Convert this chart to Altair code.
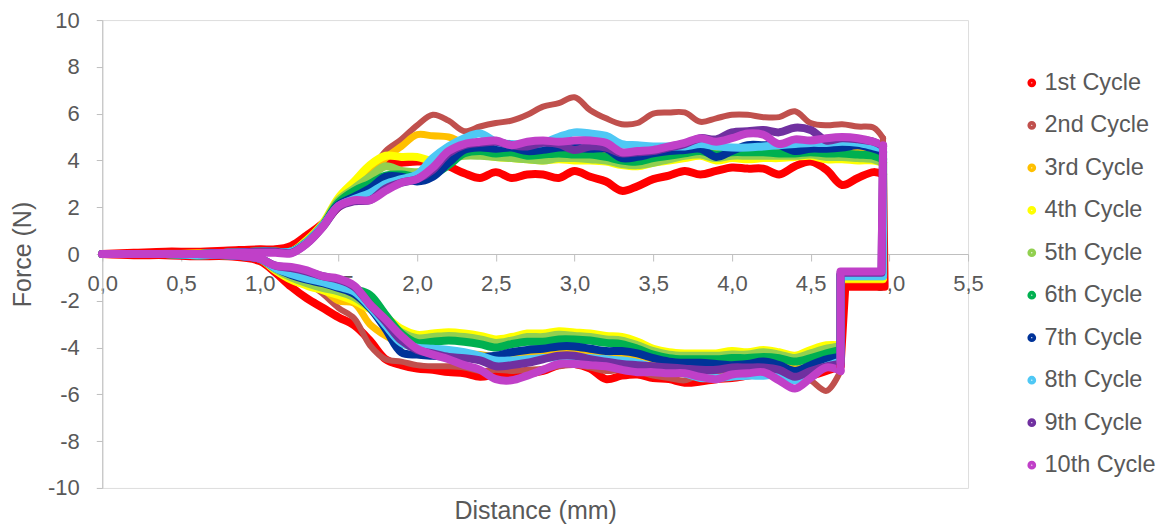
import altair as alt
import pandas as pd

SERIES = ["1st Cycle", "2nd Cycle", "3rd Cycle", "4th Cycle", "5th Cycle",
          "6th Cycle", "7th Cycle", "8th Cycle", "9th Cycle", "10th Cycle"]
COLORS = ["#FF0000", "#C0504D", "#FFC000", "#FFFF00", "#92D050",
          "#00B050", "#003399", "#4FC8F5", "#7030A0", "#C040C8"]

# loading branch (distance grid shared by all cycles)
UP_X = [0.0, 0.2, 0.4, 0.6, 0.8, 1.0, 1.1, 1.2,
        1.3, 1.4, 1.5, 1.6, 1.7, 1.8, 1.9, 2.0,
        2.1, 2.2, 2.3, 2.4, 2.5, 2.6, 2.7, 2.8, 2.9, 3.0,
        3.1, 3.2, 3.3, 3.4, 3.5, 3.6, 3.7, 3.8, 3.9, 4.0,
        4.1, 4.2, 4.3, 4.4, 4.5, 4.6, 4.7, 4.8, 4.9, 4.96]

UP_1 = [0.0, 0.05, 0.1, 0.1, 0.15, 0.2, 0.2, 0.35,
        0.8, 1.3, 2.0, 2.6, 3.25, 3.85, 3.9, 3.95,
        3.95, 3.75, 3.45, 3.25, 3.5, 3.25, 3.4, 3.4, 3.25, 3.55,
        3.3, 3.1, 2.7, 2.9, 3.2, 3.35, 3.55, 3.4, 3.55, 3.7,
        3.65, 3.65, 3.4, 3.75, 3.95, 3.6, 2.95, 3.25, 3.5, 3.4]
UP_2 = [0.0, 0.0, 0.05, 0.05, 0.05, 0.1, 0.1, 0.1,
        0.6, 1.2, 2.1, 2.8, 3.5, 4.4, 4.9, 5.5,
        5.95, 5.7, 5.25, 5.45, 5.6, 5.7, 5.95, 6.3, 6.45, 6.7,
        6.15, 5.8, 5.55, 5.6, 6.0, 6.05, 6.05, 5.65, 5.8, 5.95,
        5.95, 5.85, 5.85, 6.1, 5.6, 5.5, 5.55, 5.45, 5.4, 4.95]
UP_3 = [0.0, 0.0, 0.0, 0.05, 0.05, 0.1, 0.1, 0.1,
        0.6, 1.2, 2.1, 2.8, 3.4, 4.1, 4.6, 5.1,
        5.05, 5.0, 4.75, 4.7, 4.75, 4.7, 4.6, 4.5, 4.55, 4.5,
        4.5, 4.45, 4.3, 4.3, 4.35, 4.45, 4.5, 4.55, 4.4, 4.45,
        4.55, 4.55, 4.5, 4.45, 4.5, 4.45, 4.5, 4.5, 4.45, 4.3]
UP_4 = [0.0, 0.0, 0.0, 0.0, 0.05, 0.1, 0.1, 0.1,
        0.6, 1.3, 2.4, 3.1, 3.8, 4.2, 4.15, 4.15,
        4.0, 4.3, 4.3, 4.25, 4.15, 4.1, 4.05, 4.0, 4.05, 4.0,
        4.0, 3.95, 3.8, 3.75, 3.9, 4.0, 4.1, 4.2, 4.0, 4.1,
        4.05, 4.1, 4.1, 4.15, 4.2, 4.05, 4.05, 4.0, 4.0, 3.9]
UP_5 = [0.0, 0.0, 0.0, 0.0, 0.05, 0.1, 0.1, 0.1,
        0.55, 1.25, 2.3, 2.8, 3.3, 3.75, 3.55, 3.5,
        3.6, 4.05, 4.2, 4.2, 4.15, 4.1, 4.05, 4.0, 4.1, 4.1,
        4.05, 4.0, 3.85, 3.8, 3.9, 4.05, 4.2, 4.25, 4.1, 4.2,
        4.2, 4.2, 4.2, 4.2, 4.25, 4.15, 4.15, 4.1, 4.05, 3.9]
UP_6 = [0.0, 0.0, 0.0, 0.0, 0.05, 0.1, 0.1, 0.1,
        0.5, 1.2, 2.2, 2.7, 3.0, 3.35, 3.4, 3.3,
        3.4, 3.8, 4.3, 4.4, 4.3, 4.35, 4.2, 4.25, 4.3, 4.25,
        4.25, 4.15, 4.0, 3.95, 4.1, 4.2, 4.3, 4.4, 4.25, 4.35,
        4.35, 4.35, 4.3, 4.3, 4.35, 4.3, 4.3, 4.25, 4.2, 4.05]
UP_7 = [0.0, 0.0, 0.0, 0.0, 0.05, 0.1, 0.1, 0.1,
        0.5, 1.2, 2.1, 2.45, 2.8, 3.3, 3.3, 3.1,
        3.3, 3.9, 4.45, 4.55, 4.5, 4.55, 4.4, 4.45, 4.55, 4.55,
        4.5, 4.5, 4.1, 4.15, 4.3, 4.4, 4.45, 4.5, 4.15, 4.4,
        4.65, 4.65, 4.65, 4.4, 4.5, 4.5, 4.55, 4.65, 4.5, 4.35]
UP_8 = [0.0, 0.0, 0.0, 0.0, 0.05, 0.1, 0.1, 0.1,
        0.5, 1.2, 2.05, 2.35, 2.6, 3.0, 3.2, 3.4,
        4.1, 4.6, 4.95, 5.15, 4.8, 4.7, 4.7, 4.75, 5.0, 5.2,
        5.15, 5.05, 4.7, 4.65, 4.6, 4.6, 4.6, 4.7, 4.6, 4.55,
        4.55, 4.6, 4.65, 4.7, 4.75, 4.75, 4.8, 4.75, 4.6, 4.5]
UP_9 = [0.0, 0.0, 0.0, 0.0, 0.05, 0.1, 0.1, 0.05,
        0.45, 1.15, 2.0, 2.25, 2.3, 2.8, 3.05, 3.2,
        3.6, 4.3, 4.65, 4.75, 4.8, 4.65, 4.6, 4.75, 4.7, 4.45,
        4.6, 4.55, 4.3, 4.35, 4.4, 4.55, 4.7, 4.95, 4.9, 5.2,
        5.25, 5.3, 5.2, 5.4, 5.3, 4.85, 4.95, 4.9, 4.8, 4.6]
UP_10 = [0.0, 0.0, 0.0, 0.0, 0.05, 0.05, 0.05, 0.03,
         0.45, 1.15, 2.05, 2.3, 2.3, 2.7, 3.05, 3.2,
         3.7, 4.4, 4.7, 4.8, 4.85, 4.65, 4.8, 4.85, 4.8, 4.85,
         4.85, 4.75, 4.35, 4.4, 4.45, 4.6, 4.75, 4.95, 4.8, 4.95,
         5.15, 5.1, 4.7, 4.9, 4.85, 4.95, 5.0, 4.95, 4.8, 4.65]

# end of stroke: drop at the far end, short shelf, then return
DROP_X = [4.97, 4.96, 4.96, 4.96, 4.96, 4.96, 4.96, 4.96, 4.95, 4.95]
SHELF_Y = [-1.4, -0.95, -1.1, -1.05, -0.95, -0.9, -0.9, -0.95, -0.8, -0.75]
SHELF_X = [4.72, 4.69, 4.69, 4.69, 4.69, 4.69, 4.69, 4.69, 4.69, 4.69]

# unloading branch (distance grid shared by all cycles)
LOW_X = [4.69, 4.6, 4.5, 4.4, 4.3, 4.2, 4.1, 4.0,
         3.9, 3.8, 3.7, 3.6, 3.5, 3.4, 3.3, 3.2, 3.1, 3.0,
         2.9, 2.8, 2.7, 2.6, 2.5, 2.4, 2.3, 2.2, 2.1, 2.0,
         1.9, 1.8, 1.7, 1.6, 1.5, 1.4, 1.3, 1.2, 1.1, 1.0,
         0.8, 0.6, 0.4, 0.2, 0.0]

LOW_1 = [-4.8, -5.0, -5.2, -5.3, -5.1, -5.1, -5.2, -5.3,
         -5.35, -5.45, -5.5, -5.35, -5.3, -5.15, -5.2, -5.35, -4.9, -4.7,
         -4.75, -5.0, -5.1, -5.1, -5.15, -5.25, -5.1, -5.05, -4.95, -4.9,
         -4.75, -4.5, -3.7, -3.05, -2.7, -2.3, -1.9, -1.4, -0.8, -0.3,
         -0.1, -0.1, -0.05, -0.05, 0.0]
LOW_2 = [-5.0, -5.85, -5.4, -5.1, -5.0, -5.1, -5.1, -5.0,
         -5.1, -5.15, -5.4, -5.3, -5.2, -5.0, -4.95, -5.0, -4.85, -4.75,
         -4.8, -4.9, -4.95, -5.0, -4.95, -5.0, -4.85, -4.8, -4.8, -4.75,
         -4.6, -4.5, -3.9, -2.75, -2.3, -1.7, -1.2, -0.9, -0.55, -0.2,
         -0.05, -0.05, 0.0, 0.0, 0.0]
LOW_3 = [-4.6, -4.7, -4.8, -4.9, -4.7, -4.6, -4.65, -4.7,
         -4.75, -4.7, -4.65, -4.6, -4.5, -4.35, -4.3, -4.35, -4.3, -4.2,
         -4.2, -4.3, -4.35, -4.4, -4.4, -4.3, -4.25, -4.2, -4.1, -4.0,
         -3.85, -3.5, -3.0, -2.1, -2.0, -1.5, -1.2, -0.9, -0.55, -0.2,
         -0.05, -0.05, 0.0, 0.0, 0.0]
LOW_4 = [-3.9, -3.9, -4.1, -4.35, -4.2, -4.1, -4.2, -4.15,
         -4.25, -4.25, -4.25, -4.2, -4.05, -3.75, -3.55, -3.5, -3.4, -3.35,
         -3.3, -3.4, -3.4, -3.55, -3.65, -3.5, -3.4, -3.35, -3.4, -3.45,
         -3.2, -2.7, -2.35, -2.0, -1.75, -1.55, -1.35, -1.1, -0.7, -0.2,
         -0.05, -0.05, 0.0, 0.0, 0.0]
LOW_5 = [-3.95, -4.05, -4.25, -4.45, -4.3, -4.2, -4.3, -4.3,
         -4.35, -4.35, -4.35, -4.3, -4.15, -3.9, -3.7, -3.65, -3.55, -3.5,
         -3.45, -3.55, -3.55, -3.7, -3.8, -3.65, -3.55, -3.5, -3.55, -3.6,
         -3.35, -2.85, -2.3, -1.85, -1.6, -1.45, -1.25, -1.0, -0.65, -0.2,
         -0.05, -0.05, 0.0, 0.0, 0.0]
LOW_6 = [-4.1, -4.25, -4.45, -4.6, -4.45, -4.4, -4.45, -4.45,
         -4.5, -4.5, -4.5, -4.45, -4.3, -4.05, -3.85, -3.8, -3.7, -3.65,
         -3.65, -3.75, -3.75, -3.85, -4.0, -3.85, -3.75, -3.7, -3.75, -3.8,
         -3.4, -2.6, -1.75, -1.5, -1.25, -1.15, -1.0, -0.85, -0.55, -0.2,
         -0.05, -0.05, 0.0, 0.0, 0.0]
LOW_7 = [-4.4, -4.5, -4.75, -5.0, -4.75, -4.6, -4.7, -4.75,
         -4.7, -4.65, -4.65, -4.6, -4.45, -4.25, -4.15, -4.15, -4.05, -3.95,
         -3.95, -4.05, -4.1, -4.2, -4.35, -4.4, -4.45, -4.4, -4.35, -4.3,
         -4.2, -3.2, -2.3, -1.7, -1.45, -1.25, -1.1, -0.9, -0.6, -0.2,
         -0.05, -0.05, 0.0, 0.0, 0.0]
LOW_8 = [-4.6, -4.8, -5.1, -5.4, -5.15, -5.2, -5.2, -5.25,
         -5.3, -5.3, -5.1, -5.0, -4.85, -4.65, -4.55, -4.5, -4.45, -4.4,
         -4.4, -4.45, -4.5, -4.55, -4.55, -4.35, -4.2, -4.1, -4.05, -4.0,
         -3.8, -3.05, -2.25, -1.6, -1.4, -1.2, -1.05, -0.85, -0.6, -0.2,
         -0.05, -0.05, 0.0, 0.0, 0.0]
LOW_9 = [-4.7, -4.8, -5.0, -5.25, -4.95, -4.85, -4.85, -4.85,
         -4.95, -4.95, -4.9, -4.85, -4.8, -4.75, -4.7, -4.6, -4.5, -4.35,
         -4.35, -4.5, -4.65, -4.75, -4.8, -4.55, -4.45, -4.4, -4.25, -4.1,
         -3.7, -2.9, -2.15, -1.4, -1.1, -0.95, -0.75, -0.6, -0.5, -0.2,
         -0.05, 0.0, 0.0, 0.0, 0.0]
LOW_10 = [-5.0, -4.85, -5.3, -5.75, -5.4, -5.05, -5.1, -5.15,
          -5.35, -5.25, -5.1, -5.1, -5.05, -5.05, -4.95, -4.8, -4.75, -4.7,
          -4.7, -4.95, -5.2, -5.4, -5.35, -4.95, -4.75, -4.5, -4.3, -4.05,
          -3.5, -2.8, -2.15, -1.35, -1.05, -0.95, -0.7, -0.55, -0.5, -0.2,
          -0.05, 0.0, 0.0, 0.0, 0.0]

UPS = [UP_1, UP_2, UP_3, UP_4, UP_5, UP_6, UP_7, UP_8, UP_9, UP_10]
LOWS = [LOW_1, LOW_2, LOW_3, LOW_4, LOW_5, LOW_6, LOW_7, LOW_8, LOW_9, LOW_10]

X_TICKS = [0.0, 0.5, 1.0, 1.5, 2.0, 2.5, 3.0, 3.5, 4.0, 4.5, 5.0, 5.5]
Y_TICKS = [-10, -8, -6, -4, -2, 0, 2, 4, 6, 8, 10]

# line widths (style, not data)
WIDTHS = {"2nd Cycle": 6, "3rd Cycle": 7}
DEFAULT_W = 8

branch_rows = []
link_rows = []
for k, name in enumerate(SERIES):
    up, low = UPS[k], LOWS[k]
    assert len(up) == len(UP_X) and len(low) == len(LOW_X), name
    w = WIDTHS.get(name, DEFAULT_W)
    for i, (x, y) in enumerate(zip(UP_X, up)):
        branch_rows.append({"series": name, "grp": 2 * k, "idx": i,
                            "x": x, "y": y, "w": w})
    for i, (x, y) in enumerate(zip(LOW_X, low)):
        branch_rows.append({"series": name, "grp": 2 * k + 1, "idx": i,
                            "x": x, "y": y, "w": w})
    link = [(UP_X[-1], up[-1]), (DROP_X[k], SHELF_Y[k]),
            (SHELF_X[k], SHELF_Y[k]), (LOW_X[0], low[0])]
    for i, (x, y) in enumerate(link):
        link_rows.append({"series": name, "grp": k, "idx": i,
                          "x": x, "y": y, "w": w})

branches = pd.DataFrame(branch_rows)
links = pd.DataFrame(link_rows)

GRAY = "#BFBFBF"
TXT = "#595959"
FONT = "Liberation Sans"

PLOT_W = 866
PLOT_H = 468

x_enc = alt.X("x:Q", scale=alt.Scale(domain=[0, 5.5], nice=False, zero=False),
              axis=alt.Axis(values=X_TICKS, grid=False, offset=-PLOT_H / 2,
                            labelExpr="replace(format(datum.value, '.1f'), '.', ',')",
                            domainColor=GRAY, tickColor=GRAY, tickSize=7,
                            labelPadding=13, labelFontSize=22, labelColor=TXT,
                            labelFont=FONT, labelFlush=False, labelOverlap=False,
                            title="Distance (mm)", titleFontSize=25,
                            titleFontWeight="normal", titleColor=TXT,
                            titleFont=FONT, titleY=245, titleBaseline="top"))
y_enc = alt.Y("y:Q", scale=alt.Scale(domain=[-10, 10], nice=False),
              axis=alt.Axis(values=Y_TICKS, grid=False, domainColor=GRAY,
                            labelExpr="datum.value + ''",
                            tickColor=GRAY, tickSize=6, labelPadding=17,
                            labelFontSize=22, labelColor=TXT, labelFont=FONT,
                            title="Force (N)", titleFontSize=25,
                            titleFontWeight="normal", titleColor=TXT,
                            titleFont=FONT, titlePadding=12))
c_enc = alt.Color("series:N", sort=SERIES,
                  scale=alt.Scale(domain=SERIES, range=COLORS),
                  legend=alt.Legend(title=None, orient="none",
                                    legendX=918, legendY=51,
                                    symbolType="circle", symbolSize=14,
                                    symbolStrokeWidth=5, labelFontSize=23.5,
                                    labelColor=TXT, labelFont=FONT,
                                    rowPadding=17.5, labelOffset=1))
w_enc = alt.StrokeWidth("w:Q", scale=None, legend=None)

branch_layer = alt.Chart(branches).mark_line(
    strokeJoin="round", strokeCap="round", interpolate="catmull-rom"
).encode(x=x_enc, y=y_enc, color=c_enc, strokeWidth=w_enc,
         detail="grp:Q", order="idx:Q")

link_layer = alt.Chart(links).mark_line(
    strokeJoin="round", strokeCap="round"
).encode(x="x:Q", y="y:Q", color=alt.Color("series:N", sort=SERIES),
         strokeWidth=w_enc, detail="grp:Q", order="idx:Q")

chart = alt.layer(branch_layer, link_layer).properties(
    width=PLOT_W, height=PLOT_H,
    autosize=alt.AutoSizeParams(type="none"),
    padding={"left": 94.3, "top": 12, "right": 189, "bottom": 38},
).configure_view(stroke=None).configure(font=FONT)

chart.save("out.html", embed_options={"renderer": "svg", "actions": False})
